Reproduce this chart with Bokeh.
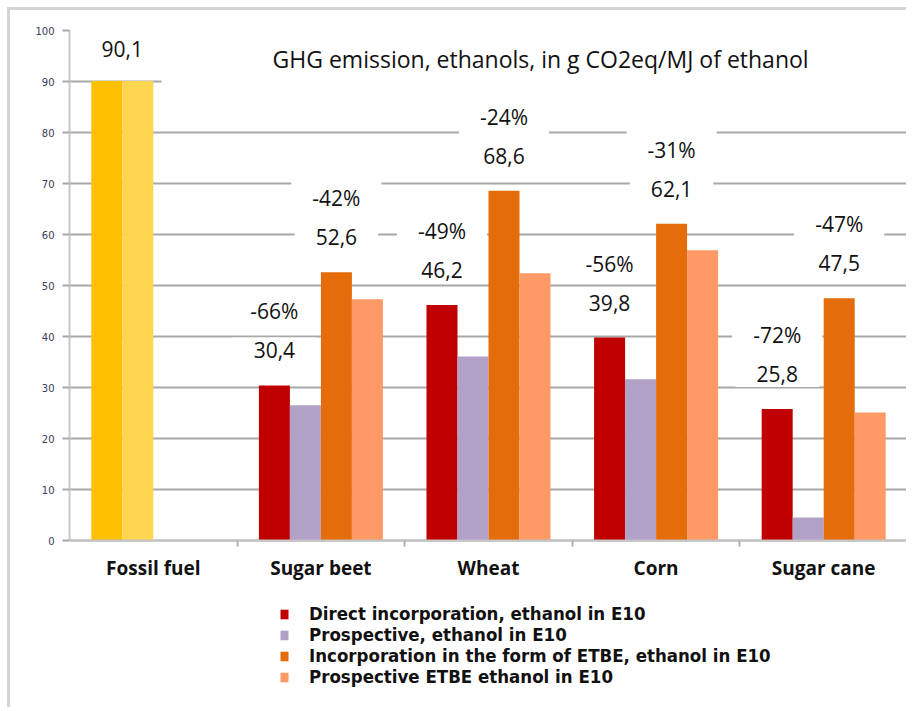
import numpy as np
from bokeh.plotting import figure
from bokeh.models import (Range1d, FixedTicker, Label, Legend, LegendItem,
                          ColumnDataSource)
from bokeh.transform import dodge
from bokeh.core.properties import value
from bokeh.embed import file_html
from bokeh.resources import INLINE

# ---------------- data ----------------
categories = ["Fossil fuel", "Sugar beet", "Wheat", "Corn", "Sugar cane"]
fossil_values = [90.1, 90.1]
fossil_label = "90,1"
crop_categories = ["Sugar beet", "Wheat", "Corn", "Sugar cane"]
direct_e10 = [30.4, 46.2, 39.8, 25.8]
prospective_e10 = [26.5, 36.1, 31.6, 4.5]
etbe_e10 = [52.6, 68.6, 62.1, 47.5]
prospective_etbe_e10 = [47.3, 52.4, 56.9, 25.1]
pct_direct = ["-66%", "-49%", "-56%", "-72%"]
pct_etbe = ["-42%", "-24%", "-31%", "-47%"]
y_ticks = [0, 10, 20, 30, 40, 50, 60, 70, 80, 90, 100]
series_names = ["Direct incorporation, ethanol in E10",
                "Prospective, ethanol in E10",
                "Incorporation in the form of ETBE, ethanol in E10",
                "Prospective ETBE ethanol in E10"]
title_text = "GHG emission, ethanols, in g CO2eq/MJ of ethanol"

# ---------------- style ----------------
colors = ["#C00000", "#B2A1C7", "#E46C0A", "#FF9966"]
fossil_colors = ["#FFC000", "#FFD550"]
FONT = "Open Sans"

W, H = 899, 700
Y_MIN = -32.35   # room under the axis for category labels and legend
p = figure(width=W, height=H, output_backend="svg", toolbar_location=None,
           x_range=Range1d(0, len(categories)), y_range=Range1d(Y_MIN, 100),
           min_border_left=59, min_border_right=2, min_border_top=20,
           min_border_bottom=5)
p.styles = {"margin-left": "7px", "margin-top": "7px",
            "border-top": "3px solid #d4d4d4", "border-left": "3px solid #d4d4d4"}
p.outline_line_color = None
p.background_fill_color = "white"
p.border_fill_color = "white"

pos = {c: i + 0.5 for i, c in enumerate(categories)}
bw = 0.185
offs = [-1.5 * bw, -0.5 * bw, 0.5 * bw, 1.5 * bw]

def fmt(v):
    return f"{v:.1f}".replace(".", ",")

# fossil fuel bars
for k in range(2):
    p.vbar(x=pos["Fossil fuel"] + offs[k], top=fossil_values[k], width=bw,
           bottom=0, color=fossil_colors[k], line_color=None)

src = ColumnDataSource(dict(
    x=[pos[c] for c in crop_categories],
    s0=direct_e10, s1=prospective_e10, s2=etbe_e10, s3=prospective_etbe_e10,
    l0=[fmt(v) for v in direct_e10], l2=[fmt(v) for v in etbe_e10],
    p0=pct_direct, p2=pct_etbe,
))

renderers = []
for k in range(4):
    r = p.vbar(x=dodge("x", offs[k], range=p.x_range), top=f"s{k}", bottom=0,
               width=bw, source=src, color=colors[k], line_color=None)
    renderers.append(r)

# ---------------- labels ----------------
VAL_OFF = -35
PCT_OFF = -74
lab_kw = dict(text_align="center", text_baseline="middle",
              text_font=value(FONT), text_font_size="21px", text_color="#111111",
              background_fill_color="white",
              padding=dict(left=21, right=21, top=5, bottom=5))
for k in (0, 2):
    p.text(x=dodge("x", offs[k], range=p.x_range), y=f"s{k}", text=f"p{k}",
           source=src, y_offset=PCT_OFF, **lab_kw)
    p.text(x=dodge("x", offs[k], range=p.x_range), y=f"s{k}", text=f"l{k}",
           source=src, y_offset=VAL_OFF, **lab_kw)

fsrc = ColumnDataSource(dict(x=[pos["Fossil fuel"] + (offs[0] + offs[1]) / 2],
                             y=[fossil_values[0]], t=[fossil_label]))
p.text(x="x", y="y", text="t", source=fsrc, y_offset=-32,
       **{**lab_kw, "padding": dict(left=27, right=27, top=8, bottom=7)})

title = Label(x=2.79, y=94.3, text=title_text, text_align="center",
              text_baseline="middle", text_font=FONT, text_font_size="23px",
              text_color="#111111", background_fill_color="white",
              padding=dict(left=111, right=104, top=9, bottom=11))
p.add_layout(title)

# ---------------- axes ----------------
xt = FixedTicker(ticks=[pos[c] for c in categories],
                 minor_ticks=[i for i in range(1, len(categories))])
p.xaxis.fixed_location = 0
p.xaxis.ticker = xt
p.xaxis.major_label_overrides = {pos[c]: c for c in categories}
p.xaxis.major_tick_line_color = None
p.xaxis.major_tick_out = 0
p.xaxis.minor_tick_out = 6
p.xaxis.minor_tick_in = 0
p.xaxis.minor_tick_line_color = "#b0b0b0"
p.xaxis.minor_tick_line_width = 2
p.xaxis.axis_line_color = "#c4c4c4"
p.xaxis.axis_line_width = 2
p.xaxis.major_label_standoff = 8
p.xaxis.major_label_text_font = FONT
p.xaxis.major_label_text_font_size = "19px"
p.xaxis.major_label_text_font_style = "bold"
p.xaxis.major_label_text_color = "#111111"

p.yaxis.ticker = FixedTicker(ticks=y_ticks)
p.yaxis.bounds = (0, 100)
p.yaxis.axis_line_color = "#c8c8c8"
p.yaxis.axis_line_width = 2
p.yaxis.major_tick_out = 7
p.yaxis.major_tick_in = 0
p.yaxis.major_tick_line_color = "#a8a8a8"
p.yaxis.major_tick_line_width = 2
p.yaxis.minor_tick_line_color = None
p.yaxis.major_label_standoff = 8
p.yaxis.major_label_text_font = "DejaVu Sans"
p.yaxis.major_label_text_font_size = "10px"
p.yaxis.major_label_text_color = "#3a3a5a"

p.xgrid.grid_line_color = None
p.ygrid.ticker = FixedTicker(ticks=y_ticks)
p.ygrid.grid_line_color = "#a8a8a8"
p.ygrid.grid_line_width = 2

# ---------------- legend ----------------
legend = Legend(items=[LegendItem(label=n, renderers=[r])
                       for n, r in zip(series_names, renderers)],
                location=(210, 18), orientation="vertical",
                glyph_width=10, glyph_height=12, label_standoff=20,
                label_height=18, spacing=0, padding=0, margin=0,
                border_line_color=None, background_fill_alpha=0,
                label_text_font="DejaVu Sans Condensed", label_text_font_size="18.5px",
                label_text_font_style="bold", label_text_color="#111111")
p.add_layout(legend)

open("out.html", "w").write(file_html(p, INLINE))
